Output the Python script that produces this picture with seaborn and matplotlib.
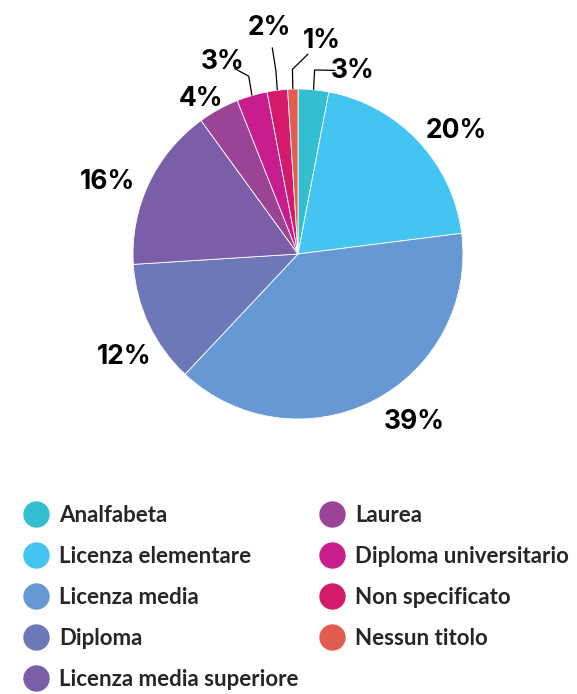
import numpy as np
import matplotlib.pyplot as plt
from matplotlib.lines import Line2D
import seaborn as sns

categories = ["Analfabeta", "Licenza elementare", "Licenza media", "Diploma",
              "Licenza media superiore", "Laurea", "Diploma universitario",
              "Non specificato", "Nessun titolo"]
values = [3, 20, 39, 12, 16, 4, 3, 2, 1]
colors = ["#33BFCF", "#44C4F0", "#6699D3", "#6C78B8", "#7B5EA8",
          "#9B4496", "#C91D8E", "#D41A6A", "#E35D4F"]

# label placement: distance from centre (in radii) and angular shift (deg, clockwise)
label_dist = [1.17, 1.22, 1.23, 1.22, 1.24, 1.12, 1.26, 1.39, 1.31]
label_shift = [11, 5, -8, -5, -4, -3, -5, 0, 8]
leader = [True, False, False, False, False, False, True, True, True]

sns.set_theme(style="white")
plt.rcParams["font.family"] = ["Inter", "DejaVu Sans"]

W, H = 577, 694
fig = plt.figure(figsize=(W / 100, H / 100), dpi=100)

# pie axes: 1 data unit = 165 px, centre at (298, 254) px
R = 165.0
cx, cy = 298.0, 254.0
top_px = 470.0
ax = fig.add_axes([0, (H - top_px) / H, 1, top_px / H])

wedges, _ = ax.pie(values, colors=colors, startangle=90, counterclock=False,
                   radius=1.0, wedgeprops=dict(edgecolor="white", linewidth=0.6))
ax.set_aspect("auto")
ax.set_xlim(-cx / R, (W - cx) / R)
ax.set_ylim(-(top_px - cy) / R, cy / R)
ax.axis("off")

total = float(sum(values))
cum = np.cumsum([0] + values)
for i, v in enumerate(values):
    mid = (cum[i] + v / 2.0) / total * 360.0
    ang = np.deg2rad(90 - (mid + label_shift[i]))
    d = label_dist[i]
    lx, ly = d * np.cos(ang), d * np.sin(ang) - 0.012
    ax.text(lx, ly, f"{v}%", ha="center", va="center", fontsize=19,
            fontweight="bold", color="black")
    if leader[i]:
        a0 = np.deg2rad(90 - mid)
        x0, y0 = 1.0 * np.cos(a0), 1.0 * np.sin(a0)
        x1, y1 = 1.07 * np.cos(a0), 1.07 * np.sin(a0) + 0.05
        x2 = x1 + (lx - x1) * 0.55
        y2 = y1 + (ly - y1) * 0.55
        ax.plot([x0, x1, x2], [y0, y1, y2], color="black", lw=0.9,
                solid_capstyle="butt")

handles = [Line2D([], [], marker="o", linestyle="none", markersize=18,
                  markerfacecolor=c, markeredgecolor=c) for c in colors]
leg_kw = dict(loc="upper left", frameon=False,
              prop=dict(family=["Lato", "DejaVu Sans"], weight="bold", size=16),
              handlelength=1.0, handletextpad=0.55, labelspacing=0.9,
              borderaxespad=0, borderpad=0)
leg1 = fig.legend(handles[:5], categories[:5],
                  bbox_to_anchor=(25 / W, 1 - 505 / H), **leg_kw)
leg2 = fig.legend(handles[5:], categories[5:],
                  bbox_to_anchor=(321 / W, 1 - 505 / H), **leg_kw)

fig.savefig("out.png", dpi=100)
